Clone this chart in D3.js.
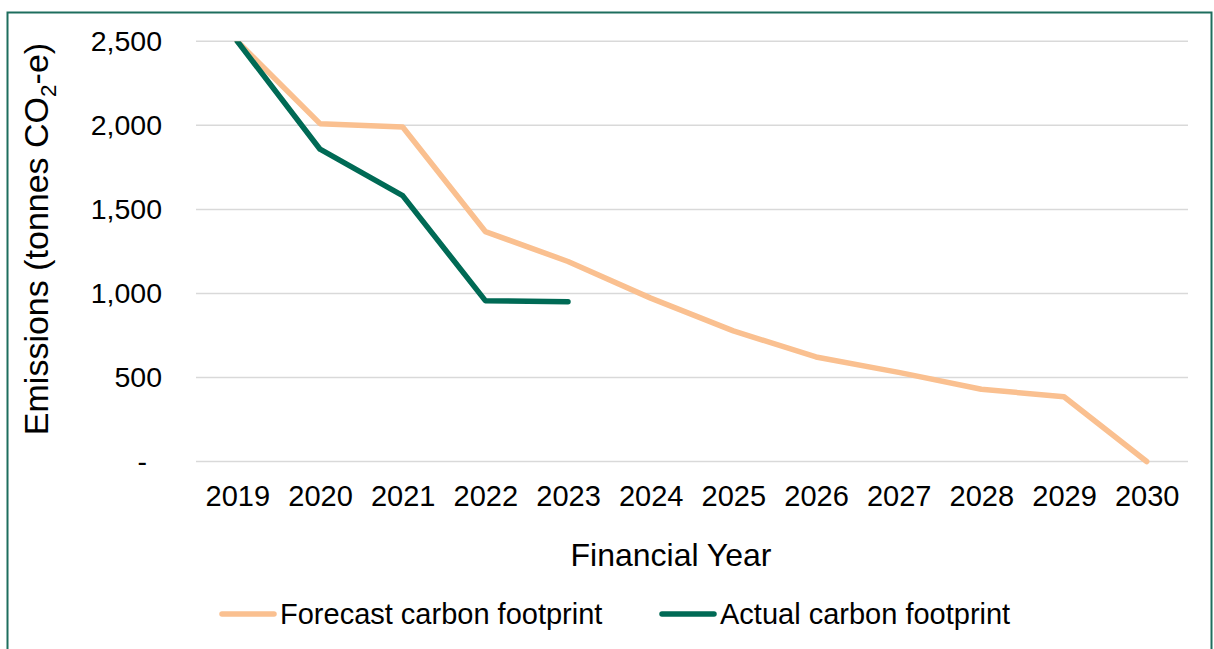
<!DOCTYPE html>
<html>
<head>
<meta charset="utf-8">
<script src="https://cdn.jsdelivr.net/npm/d3@7"></script>
<style>
  html, body { margin: 0; padding: 0; background: #fff; }
  svg { display: block; font-family: "Liberation Sans", Arial, sans-serif; }
</style>
</head>
<body>
<svg id="chart" width="1214" height="649"></svg>
<script>
// Financial years on the category axis
const years = ["2019", "2020", "2021", "2022", "2023", "2024", "2025", "2026", "2027", "2028", "2029", "2030"];
// Forecast emissions pathway to net zero (tonnes CO2-e)
const forecast = [2500, 2010, 1990, 1368, 1190, 972, 777, 622, 530, 430, 385, 0];
// Reported emissions to date (tonnes CO2-e)
const actual = [2500, 1858, 1582, 957, 950];
// Value-axis ticks
const yTicks = [0, 500, 1000, 1500, 2000, 2500];

const seriesNames = ["Forecast carbon footprint", "Actual carbon footprint"];
const colors = { forecast: "#FAC090", actual: "#006A55" };

const plot = { left: 196, right: 1188, top: 41.3, bottom: 461.5 };

const svg = d3.select("#chart");

// outer frame
svg.append("rect")
  .attr("x", 7.5).attr("y", 12.5)
  .attr("width", 1204).attr("height", 640)
  .attr("fill", "none").attr("stroke", "#1E6E5E").attr("stroke-width", 2);

const x = d3.scalePoint().domain(years).range([plot.left, plot.right]).padding(0.5);
const y = d3.scaleLinear().domain([0, 2500]).range([plot.bottom, plot.top]);

// horizontal gridlines
svg.append("g")
  .selectAll("line").data(yTicks).join("line")
  .attr("x1", plot.left).attr("x2", plot.right)
  .attr("y1", d => y(d)).attr("y2", d => y(d))
  .attr("stroke", "#D9D9D9").attr("stroke-width", 1.5);

// y axis labels
const yAxis = d3.axisLeft(y).tickValues(yTicks)
  .tickFormat(d => d === 0 ? "-" : d3.format(",")(d))
  .tickSize(0).tickPadding(0);
const gy = svg.append("g").attr("transform", `translate(${plot.left - 34},0)`).call(yAxis);
gy.select(".domain").remove();
gy.selectAll("text").attr("font-size", 28.5).attr("fill", "#000")
  .attr("font-family", "Liberation Sans, Arial, sans-serif");
gy.selectAll(".tick").filter(d => d === 0).select("text").attr("dx", -15);

// x axis labels
const xAxis = d3.axisBottom(x).tickSize(0).tickPadding(0);
const gx = svg.append("g").attr("transform", `translate(0,${plot.bottom + 24})`).call(xAxis);
gx.select(".domain").remove();
gx.selectAll("text").attr("font-size", 29).attr("fill", "#000")
  .attr("font-family", "Liberation Sans, Arial, sans-serif");

// axis titles
svg.append("text")
  .attr("x", 671).attr("y", 566)
  .attr("text-anchor", "middle").attr("font-size", 32).attr("fill", "#000")
  .text("Financial Year");

const yt = svg.append("text")
  .attr("transform", "translate(48,239) rotate(-90)")
  .attr("text-anchor", "middle").attr("font-size", 34).attr("fill", "#000");
yt.append("tspan").text("Emissions (tonnes CO");
yt.append("tspan").attr("font-size", 22.5).attr("dy", 8).text("2");
yt.append("tspan").attr("dy", -8).text("-e)");

// lines, clipped to the top of the plot area
svg.append("clipPath").attr("id", "plotClip")
  .append("rect").attr("x", plot.left - 10).attr("y", plot.top)
  .attr("width", plot.right - plot.left + 20).attr("height", plot.bottom - plot.top + 20);

const line = d3.line().x((d, i) => x(years[i])).y(d => y(d));
const lines = svg.append("g").attr("clip-path", "url(#plotClip)");
lines.append("path").datum(forecast)
  .attr("d", line).attr("fill", "none").attr("stroke", colors.forecast)
  .attr("stroke-width", 5.5).attr("stroke-linejoin", "round").attr("stroke-linecap", "round");
lines.append("path").datum(actual)
  .attr("d", line).attr("fill", "none").attr("stroke", colors.actual)
  .attr("stroke-width", 5.5).attr("stroke-linejoin", "round").attr("stroke-linecap", "round");

// legend
const legendItems = [
  { name: seriesNames[0], color: colors.forecast, x0: 222 },
  { name: seriesNames[1], color: colors.actual, x0: 662 }
];
const lg = svg.append("g");
legendItems.forEach(it => {
  lg.append("line").attr("x1", it.x0).attr("x2", it.x0 + 52)
    .attr("y1", 614).attr("y2", 614)
    .attr("stroke", it.color).attr("stroke-width", 5.5).attr("stroke-linecap", "round");
  lg.append("text").attr("x", it.x0 + 58).attr("y", 624)
    .attr("font-size", 29).attr("fill", "#000").text(it.name);
});
</script>
</body>
</html>
